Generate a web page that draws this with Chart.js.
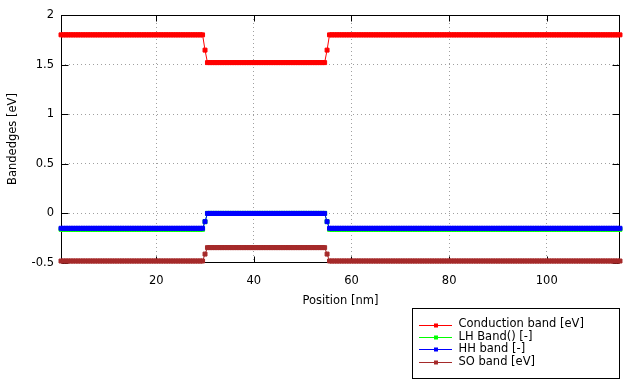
<!DOCTYPE html>
<html><head><meta charset="utf-8">
<script src="https://cdn.jsdelivr.net/npm/chart.js@4"></script>
<style>html,body{margin:0;padding:0;background:#fff}#wrap{width:640px;height:384px}</style>
</head><body><div id="wrap"><canvas id="c" width="640" height="384"></canvas></div>
<script>
const positions = [
0.5,1,1.5,2,2.5,3,3.5,4,4.5,5,
5.5,6,6.5,7,7.5,8,8.5,9,9.5,10,
10.5,11,11.5,12,12.5,13,13.5,14,14.5,15,
15.5,16,16.5,17,17.5,18,18.5,19,19.5,20,
20.5,21,21.5,22,22.5,23,23.5,24,24.5,25,
25.5,26,26.5,27,27.5,28,28.5,29,29.5,30,
30.5,31,31.5,32,32.5,33,33.5,34,34.5,35,
35.5,36,36.5,37,37.5,38,38.5,39,39.5,40,
40.5,41,41.5,42,42.5,43,43.5,44,44.5,45,
45.5,46,46.5,47,47.5,48,48.5,49,49.5,50,
50.5,51,51.5,52,52.5,53,53.5,54,54.5,55,
55.5,56,56.5,57,57.5,58,58.5,59,59.5,60,
60.5,61,61.5,62,62.5,63,63.5,64,64.5,65,
65.5,66,66.5,67,67.5,68,68.5,69,69.5,70,
70.5,71,71.5,72,72.5,73,73.5,74,74.5,75,
75.5,76,76.5,77,77.5,78,78.5,79,79.5,80,
80.5,81,81.5,82,82.5,83,83.5,84,84.5,85,
85.5,86,86.5,87,87.5,88,88.5,89,89.5,90,
90.5,91,91.5,92,92.5,93,93.5,94,94.5,95,
95.5,96,96.5,97,97.5,98,98.5,99,99.5,100,
100.5,101,101.5,102,102.5,103,103.5,104,104.5,105,
105.5,106,106.5,107,107.5,108,108.5,109,109.5,110,
110.5,111,111.5,112,112.5,113,113.5,114,114.5,115
];
const conductionBand = [
1.8,1.8,1.8,1.8,1.8,1.8,1.8,1.8,1.8,1.8,
1.8,1.8,1.8,1.8,1.8,1.8,1.8,1.8,1.8,1.8,
1.8,1.8,1.8,1.8,1.8,1.8,1.8,1.8,1.8,1.8,
1.8,1.8,1.8,1.8,1.8,1.8,1.8,1.8,1.8,1.8,
1.8,1.8,1.8,1.8,1.8,1.8,1.8,1.8,1.8,1.8,
1.8,1.8,1.8,1.8,1.8,1.8,1.8,1.8,1.8,1.646,
1.52,1.52,1.52,1.52,1.52,1.52,1.52,1.52,1.52,1.52,
1.52,1.52,1.52,1.52,1.52,1.52,1.52,1.52,1.52,1.52,
1.52,1.52,1.52,1.52,1.52,1.52,1.52,1.52,1.52,1.52,
1.52,1.52,1.52,1.52,1.52,1.52,1.52,1.52,1.52,1.52,
1.52,1.52,1.52,1.52,1.52,1.52,1.52,1.52,1.52,1.646,
1.8,1.8,1.8,1.8,1.8,1.8,1.8,1.8,1.8,1.8,
1.8,1.8,1.8,1.8,1.8,1.8,1.8,1.8,1.8,1.8,
1.8,1.8,1.8,1.8,1.8,1.8,1.8,1.8,1.8,1.8,
1.8,1.8,1.8,1.8,1.8,1.8,1.8,1.8,1.8,1.8,
1.8,1.8,1.8,1.8,1.8,1.8,1.8,1.8,1.8,1.8,
1.8,1.8,1.8,1.8,1.8,1.8,1.8,1.8,1.8,1.8,
1.8,1.8,1.8,1.8,1.8,1.8,1.8,1.8,1.8,1.8,
1.8,1.8,1.8,1.8,1.8,1.8,1.8,1.8,1.8,1.8,
1.8,1.8,1.8,1.8,1.8,1.8,1.8,1.8,1.8,1.8,
1.8,1.8,1.8,1.8,1.8,1.8,1.8,1.8,1.8,1.8,
1.8,1.8,1.8,1.8,1.8,1.8,1.8,1.8,1.8,1.8,
1.8,1.8,1.8,1.8,1.8,1.8,1.8,1.8,1.8,1.8
];
const lhBand = [
-0.16,-0.16,-0.16,-0.16,-0.16,-0.16,-0.16,-0.16,-0.16,-0.16,
-0.16,-0.16,-0.16,-0.16,-0.16,-0.16,-0.16,-0.16,-0.16,-0.16,
-0.16,-0.16,-0.16,-0.16,-0.16,-0.16,-0.16,-0.16,-0.16,-0.16,
-0.16,-0.16,-0.16,-0.16,-0.16,-0.16,-0.16,-0.16,-0.16,-0.16,
-0.16,-0.16,-0.16,-0.16,-0.16,-0.16,-0.16,-0.16,-0.16,-0.16,
-0.16,-0.16,-0.16,-0.16,-0.16,-0.16,-0.16,-0.16,-0.16,-0.083,
0,0,0,0,0,0,0,0,0,0,
0,0,0,0,0,0,0,0,0,0,
0,0,0,0,0,0,0,0,0,0,
0,0,0,0,0,0,0,0,0,0,
0,0,0,0,0,0,0,0,0,-0.083,
-0.16,-0.16,-0.16,-0.16,-0.16,-0.16,-0.16,-0.16,-0.16,-0.16,
-0.16,-0.16,-0.16,-0.16,-0.16,-0.16,-0.16,-0.16,-0.16,-0.16,
-0.16,-0.16,-0.16,-0.16,-0.16,-0.16,-0.16,-0.16,-0.16,-0.16,
-0.16,-0.16,-0.16,-0.16,-0.16,-0.16,-0.16,-0.16,-0.16,-0.16,
-0.16,-0.16,-0.16,-0.16,-0.16,-0.16,-0.16,-0.16,-0.16,-0.16,
-0.16,-0.16,-0.16,-0.16,-0.16,-0.16,-0.16,-0.16,-0.16,-0.16,
-0.16,-0.16,-0.16,-0.16,-0.16,-0.16,-0.16,-0.16,-0.16,-0.16,
-0.16,-0.16,-0.16,-0.16,-0.16,-0.16,-0.16,-0.16,-0.16,-0.16,
-0.16,-0.16,-0.16,-0.16,-0.16,-0.16,-0.16,-0.16,-0.16,-0.16,
-0.16,-0.16,-0.16,-0.16,-0.16,-0.16,-0.16,-0.16,-0.16,-0.16,
-0.16,-0.16,-0.16,-0.16,-0.16,-0.16,-0.16,-0.16,-0.16,-0.16,
-0.16,-0.16,-0.16,-0.16,-0.16,-0.16,-0.16,-0.16,-0.16,-0.16
];
const hhBand = [
-0.15,-0.15,-0.15,-0.15,-0.15,-0.15,-0.15,-0.15,-0.15,-0.15,
-0.15,-0.15,-0.15,-0.15,-0.15,-0.15,-0.15,-0.15,-0.15,-0.15,
-0.15,-0.15,-0.15,-0.15,-0.15,-0.15,-0.15,-0.15,-0.15,-0.15,
-0.15,-0.15,-0.15,-0.15,-0.15,-0.15,-0.15,-0.15,-0.15,-0.15,
-0.15,-0.15,-0.15,-0.15,-0.15,-0.15,-0.15,-0.15,-0.15,-0.15,
-0.15,-0.15,-0.15,-0.15,-0.15,-0.15,-0.15,-0.15,-0.15,-0.083,
0,0,0,0,0,0,0,0,0,0,
0,0,0,0,0,0,0,0,0,0,
0,0,0,0,0,0,0,0,0,0,
0,0,0,0,0,0,0,0,0,0,
0,0,0,0,0,0,0,0,0,-0.083,
-0.15,-0.15,-0.15,-0.15,-0.15,-0.15,-0.15,-0.15,-0.15,-0.15,
-0.15,-0.15,-0.15,-0.15,-0.15,-0.15,-0.15,-0.15,-0.15,-0.15,
-0.15,-0.15,-0.15,-0.15,-0.15,-0.15,-0.15,-0.15,-0.15,-0.15,
-0.15,-0.15,-0.15,-0.15,-0.15,-0.15,-0.15,-0.15,-0.15,-0.15,
-0.15,-0.15,-0.15,-0.15,-0.15,-0.15,-0.15,-0.15,-0.15,-0.15,
-0.15,-0.15,-0.15,-0.15,-0.15,-0.15,-0.15,-0.15,-0.15,-0.15,
-0.15,-0.15,-0.15,-0.15,-0.15,-0.15,-0.15,-0.15,-0.15,-0.15,
-0.15,-0.15,-0.15,-0.15,-0.15,-0.15,-0.15,-0.15,-0.15,-0.15,
-0.15,-0.15,-0.15,-0.15,-0.15,-0.15,-0.15,-0.15,-0.15,-0.15,
-0.15,-0.15,-0.15,-0.15,-0.15,-0.15,-0.15,-0.15,-0.15,-0.15,
-0.15,-0.15,-0.15,-0.15,-0.15,-0.15,-0.15,-0.15,-0.15,-0.15,
-0.15,-0.15,-0.15,-0.15,-0.15,-0.15,-0.15,-0.15,-0.15,-0.15
];
const soBand = [
-0.48,-0.48,-0.48,-0.48,-0.48,-0.48,-0.48,-0.48,-0.48,-0.48,
-0.48,-0.48,-0.48,-0.48,-0.48,-0.48,-0.48,-0.48,-0.48,-0.48,
-0.48,-0.48,-0.48,-0.48,-0.48,-0.48,-0.48,-0.48,-0.48,-0.48,
-0.48,-0.48,-0.48,-0.48,-0.48,-0.48,-0.48,-0.48,-0.48,-0.48,
-0.48,-0.48,-0.48,-0.48,-0.48,-0.48,-0.48,-0.48,-0.48,-0.48,
-0.48,-0.48,-0.48,-0.48,-0.48,-0.48,-0.48,-0.48,-0.48,-0.41,
-0.345,-0.345,-0.345,-0.345,-0.345,-0.345,-0.345,-0.345,-0.345,-0.345,
-0.345,-0.345,-0.345,-0.345,-0.345,-0.345,-0.345,-0.345,-0.345,-0.345,
-0.345,-0.345,-0.345,-0.345,-0.345,-0.345,-0.345,-0.345,-0.345,-0.345,
-0.345,-0.345,-0.345,-0.345,-0.345,-0.345,-0.345,-0.345,-0.345,-0.345,
-0.345,-0.345,-0.345,-0.345,-0.345,-0.345,-0.345,-0.345,-0.345,-0.41,
-0.48,-0.48,-0.48,-0.48,-0.48,-0.48,-0.48,-0.48,-0.48,-0.48,
-0.48,-0.48,-0.48,-0.48,-0.48,-0.48,-0.48,-0.48,-0.48,-0.48,
-0.48,-0.48,-0.48,-0.48,-0.48,-0.48,-0.48,-0.48,-0.48,-0.48,
-0.48,-0.48,-0.48,-0.48,-0.48,-0.48,-0.48,-0.48,-0.48,-0.48,
-0.48,-0.48,-0.48,-0.48,-0.48,-0.48,-0.48,-0.48,-0.48,-0.48,
-0.48,-0.48,-0.48,-0.48,-0.48,-0.48,-0.48,-0.48,-0.48,-0.48,
-0.48,-0.48,-0.48,-0.48,-0.48,-0.48,-0.48,-0.48,-0.48,-0.48,
-0.48,-0.48,-0.48,-0.48,-0.48,-0.48,-0.48,-0.48,-0.48,-0.48,
-0.48,-0.48,-0.48,-0.48,-0.48,-0.48,-0.48,-0.48,-0.48,-0.48,
-0.48,-0.48,-0.48,-0.48,-0.48,-0.48,-0.48,-0.48,-0.48,-0.48,
-0.48,-0.48,-0.48,-0.48,-0.48,-0.48,-0.48,-0.48,-0.48,-0.48,
-0.48,-0.48,-0.48,-0.48,-0.48,-0.48,-0.48,-0.48,-0.48,-0.48
];
const seriesLabels = ['Conduction band [eV]', 'LH Band() [-]', 'HH band [-]', 'SO band [eV]'];
const seriesColors = ['#ff0000', '#00ff00', '#0000ff', '#a52a2a'];
const seriesValues = [conductionBand, lhBand, hhBand, soBand];
const xTickValues = [20, 40, 60, 80, 100];
const yTickValues = [-0.5, 0, 0.5, 1, 1.5, 2];
const xRange = [0.5, 115];
const yRange = [-0.5, 2];
const xTitle = 'Position [nm]';
const yTitle = 'Bandedges [eV]';

const FONT = {family: 'DejaVu Sans', size: 11.5};
const GRID_COLOR = '#a0a0a0';

const datasets = seriesValues.map((vals, i) => ({
  label: seriesLabels[i],
  data: positions.map((x, j) => ({x: x, y: vals[j]})),
  borderColor: seriesColors[i],
  backgroundColor: seriesColors[i],
  pointBackgroundColor: seriesColors[i],
  pointBorderColor: seriesColors[i],
  pointStyle: 'rect',
  pointRadius: 2.8,
  pointBorderWidth: 1,
  borderWidth: 1,
  borderCapStyle: 'butt',
  tension: 0,
  clip: false,
  segment: {
    borderWidth: c => (c.p0.parsed.y === c.p1.parsed.y ? 4.6 : 1)
  },
  order: seriesValues.length - i
}));

const framePlugin = {
  id: 'frame',
  beforeDatasetsDraw(chart) {
    const {ctx, chartArea: a, scales} = chart;
    const L = Math.round(a.left) + 0.5, R = Math.round(a.right) - 0.5;
    const T = Math.round(a.top) + 0.5, B = Math.round(a.bottom) - 0.5;
    ctx.save();
    ctx.strokeStyle = '#000';
    ctx.lineWidth = 1;
    ctx.setLineDash([]);
    ctx.strokeRect(L, T, R - L, B - T);
    ctx.beginPath();
    xTickValues.forEach(v => {
      const px = Math.round(scales.x.getPixelForValue(v)) + 0.5;
      ctx.moveTo(px, B); ctx.lineTo(px, B - 6);
      ctx.moveTo(px, T); ctx.lineTo(px, T + 6);
    });
    yTickValues.forEach(v => {
      const py = Math.round(scales.y.getPixelForValue(v)) + 0.5;
      ctx.moveTo(L, py); ctx.lineTo(L + 7, py);
      ctx.moveTo(R, py); ctx.lineTo(R - 7, py);
    });
    ctx.stroke();
    ctx.restore();
  }
};

const legendPlugin = {
  id: 'boxLegend',
  afterDraw(chart) {
    const {ctx, chartArea: a} = chart;
    const right = Math.round(a.right) - 0.5;
    const left = right - 207;
    const top = 308.5, bottom = 378.5;
    ctx.save();
    ctx.setLineDash([]);
    ctx.fillStyle = '#fff';
    ctx.fillRect(left, top, right - left, bottom - top);
    ctx.strokeStyle = '#000';
    ctx.lineWidth = 1;
    ctx.strokeRect(left, top, right - left, bottom - top);
    ctx.font = FONT.size + 'px "' + FONT.family + '"';
    ctx.textBaseline = 'middle';
    ctx.textAlign = 'left';
    seriesLabels.forEach((lab, i) => {
      const y = 324.5 + i * 12.4;
      const yl = Math.round(y) + 0.5;
      ctx.strokeStyle = seriesColors[i];
      ctx.fillStyle = seriesColors[i];
      ctx.beginPath();
      ctx.moveTo(419, yl); ctx.lineTo(452, yl);
      ctx.stroke();
      ctx.fillRect(434, yl - 2, 4, 4);
      ctx.fillStyle = '#000';
      ctx.fillText(lab, 458.5, y);
    });
    ctx.restore();
  }
};

const gridColor = (range) => (c) => {
  const v = c.tick ? c.tick.value : null;
  if (v === range[0] || v === range[1]) return 'rgba(0,0,0,0)';
  return GRID_COLOR;
};

new Chart(document.getElementById('c'), {
  type: 'line',
  data: {datasets: datasets},
  options: {
    responsive: false,
    animation: false,
    devicePixelRatio: 1,
    layout: {padding: {left: 0, right: 20, top: 15, bottom: 0}},
    plugins: {legend: {display: false}, tooltip: {enabled: false}},
    scales: {
      x: {
        type: 'linear', min: xRange[0], max: xRange[1],
        afterBuildTicks: s => { s.ticks = xTickValues.map(v => ({value: v})); },
        afterFit: s => { s.height = 121; },
        grid: {color: gridColor(xRange), drawTicks: false, lineWidth: 1},
        border: {display: false, dash: [1, 3]},
        ticks: {color: '#000', font: FONT, padding: 11, maxRotation: 0, autoSkip: false,
                callback: v => String(v)},
        title: {display: true, text: xTitle, color: '#000', font: FONT, padding: {top: 0, bottom: 76}}
      },
      y: {
        type: 'linear', min: yRange[0], max: yRange[1],
        afterBuildTicks: s => { s.ticks = yTickValues.map(v => ({value: v})); },
        afterFit: s => { s.width = 61; },
        grid: {color: gridColor(yRange), drawTicks: false, lineWidth: 1},
        border: {display: false, dash: [1, 3]},
        ticks: {color: '#000', font: FONT, padding: 7, autoSkip: false,
                callback: v => String(v)},
        title: {display: true, text: yTitle, color: '#000', font: FONT, padding: {top: 6, bottom: 0}}
      }
    }
  },
  plugins: [framePlugin, legendPlugin]
});
</script>
</body></html>
